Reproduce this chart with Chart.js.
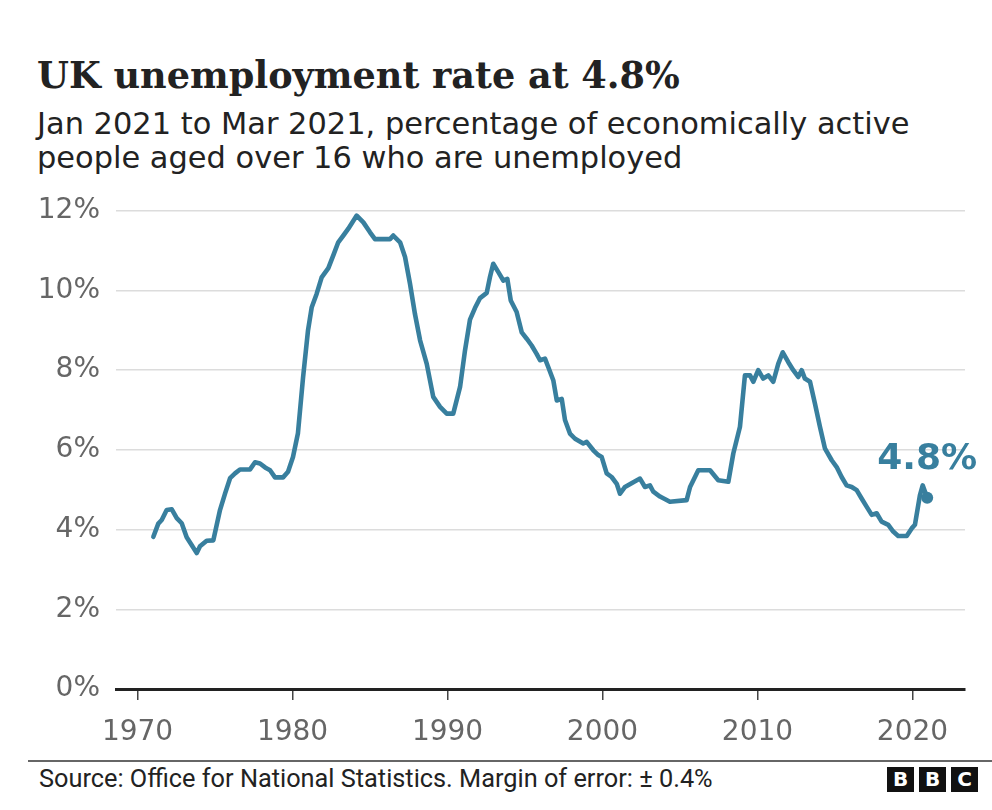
<!DOCTYPE html>
<html><head><meta charset="utf-8">
<script src="https://cdn.jsdelivr.net/npm/chart.js@4"></script>
<style>
html,body{margin:0;padding:0;background:#fff;width:992px;height:810px;overflow:hidden;}
.t{position:absolute;left:0;top:0;white-space:nowrap;color:#222;line-height:1;}
#wrap{position:absolute;left:0;top:178px;width:992px;height:582px;}
#sep{position:absolute;left:28px;right:0;top:760px;height:1.5px;background:#666;}
.bbc{position:absolute;top:767px;width:27px;height:25px;background:#111;color:#fff;font-family:"DejaVu Sans";font-weight:bold;font-size:20px;line-height:25px;text-align:center;}
</style>
</head><body>
<div class="t" id="title">UK unemployment rate at 4.8%</div>
<div class="t" id="sub1">Jan 2021 to Mar 2021, percentage of economically active</div>
<div class="t" id="sub2">people aged over 16 who are unemployed</div>
<div id="wrap"><canvas id="c"></canvas></div>
<div id="sep"></div>
<div class="t" id="src">Source: Office for National Statistics. Margin of error: ± 0.4%</div>
<div class="bbc" style="left:887px">B</div>
<div class="bbc" style="left:919px">B</div>
<div class="bbc" style="left:951px">C</div>
<script>
const years = [1971.02,1971.34,1971.56,1971.88,1972.21,1972.53,1972.85,1973.17,1973.50,1973.82,1974.03,1974.46,1974.89,1975.32,1975.65,1975.97,1976.29,1976.61,1977.26,1977.58,1977.90,1978.23,1978.55,1978.87,1979.39,1979.71,1980.03,1980.35,1980.68,1981.00,1981.24,1981.56,1981.88,1982.31,1982.63,1982.95,1983.28,1983.60,1984.14,1984.57,1985.00,1985.32,1986.29,1986.50,1986.94,1987.26,1987.58,1987.90,1988.23,1988.66,1989.08,1989.52,1989.95,1990.37,1990.81,1991.13,1991.45,1991.77,1992.10,1992.53,1992.74,1992.95,1993.28,1993.60,1993.86,1994.08,1994.46,1994.79,1995.11,1995.43,1995.75,1995.97,1996.29,1996.50,1996.83,1997.05,1997.37,1997.58,1997.90,1998.23,1998.76,1998.98,1999.41,1999.73,1999.95,2000.27,2000.59,2000.92,2001.13,2001.45,2001.99,2002.42,2002.74,2003.06,2003.28,2003.71,2004.35,2005.43,2005.65,2006.18,2006.94,2007.47,2008.12,2008.44,2008.87,2009.19,2009.52,2009.73,2010.05,2010.37,2010.70,2011.02,2011.34,2011.63,2011.99,2012.31,2012.63,2012.85,2013.06,2013.39,2013.71,2014.03,2014.35,2014.79,2015.11,2015.43,2015.75,2016.08,2016.40,2016.72,2017.05,2017.37,2017.69,2018.01,2018.44,2018.76,2019.08,2019.63,2019.95,2020.16,2020.48,2020.66,2020.95];
const rates = [3.82,4.15,4.24,4.49,4.51,4.29,4.16,3.81,3.61,3.41,3.58,3.72,3.73,4.49,4.91,5.29,5.41,5.51,5.51,5.69,5.66,5.56,5.49,5.31,5.31,5.45,5.82,6.42,7.82,9.00,9.58,9.92,10.33,10.56,10.88,11.21,11.38,11.55,11.88,11.71,11.46,11.29,11.29,11.38,11.21,10.84,10.17,9.41,8.75,8.16,7.33,7.08,6.91,6.91,7.58,8.50,9.27,9.56,9.81,9.94,10.34,10.67,10.46,10.25,10.29,9.75,9.46,8.95,8.79,8.62,8.41,8.25,8.29,8.08,7.74,7.24,7.28,6.75,6.41,6.28,6.16,6.20,5.99,5.87,5.82,5.41,5.32,5.15,4.90,5.07,5.19,5.28,5.07,5.11,4.95,4.83,4.70,4.74,5.07,5.49,5.49,5.24,5.20,5.91,6.58,7.87,7.87,7.71,8.00,7.79,7.87,7.71,8.16,8.45,8.20,8.00,7.83,8.00,7.79,7.71,7.16,6.58,6.04,5.74,5.57,5.32,5.11,5.07,4.99,4.78,4.57,4.37,4.41,4.20,4.12,3.95,3.84,3.84,4.03,4.12,4.86,5.11,4.80];
const xTicks = [1970,1980,1990,2000,2010,2020];
const yTicks = [0,2,4,6,8,10,12];
const latestLabel = "4.8%";

const TEAL = '#387f9e';
const mctx = document.createElement('canvas').getContext('2d');
function fit(el, family, weight, targetW, size){
  if(!size){ mctx.font = weight+' 100px "'+family+'"'; size = 100*targetW/mctx.measureText(el.textContent).width; }
  el.style.fontFamily='"'+family+'"'; el.style.fontWeight=weight; el.style.fontSize=size+'px';
  return size;
}
function place(el, x, baseline){
  el.style.left = x+'px'; el.style.top='0px';
  const p=document.createElement('span'); p.style.cssText='display:inline-block;width:0;height:0;vertical-align:baseline';
  el.appendChild(p);
  const b=p.getBoundingClientRect().top-el.getBoundingClientRect().top;
  el.removeChild(p);
  el.style.top=(baseline-b)+'px';
}
const T=document.getElementById('title'), S1=document.getElementById('sub1'), S2=document.getElementById('sub2'), SR=document.getElementById('src');
fit(T,'DejaVu Serif','bold',643); place(T,37,88);
const ss=fit(S1,'DejaVu Sans','normal',873); place(S1,37,134);
fit(S2,'DejaVu Sans','normal',0,ss); place(S2,37,168);
fit(SR,'Roboto','normal',674); place(SR,39,787);

const labelPlugin = {
  id:'latest',
  afterDatasetsDraw(chart){
    const meta = chart.getDatasetMeta(0);
    const pt = meta.data[meta.data.length-1];
    const ctx = chart.ctx;
    ctx.save();
    ctx.font = 'bold 100px "DejaVu Sans"';
    const w = ctx.measureText(latestLabel).width;
    const sz = 100*100/w;
    ctx.font = 'bold '+sz+'px "DejaVu Sans"';
    ctx.fillStyle = TEAL;
    ctx.textAlign='center'; ctx.textBaseline='alphabetic';
    ctx.fillText(latestLabel, pt.x, pt.y-29);
    ctx.restore();
  }
};

new Chart(document.getElementById('c'), {
  type:'line',
  data:{ datasets:[{
    data: years.map((y,i)=>({x:y,y:rates[i]})),
    borderColor:TEAL, backgroundColor:TEAL, borderWidth:4.6,
    borderJoinStyle:'round', borderCapStyle:'round', tension:0,
    pointRadius:(c)=>c.dataIndex===years.length-1?6:0,
    pointHoverRadius:0, pointBorderWidth:0,
    clip:false
  }]},
  options:{
    responsive:true, maintainAspectRatio:false, animation:false,
    events:[],
    layout:{padding:{left:0,right:27,top:8,bottom:0}},
    plugins:{legend:{display:false},tooltip:{enabled:false}},
    scales:{
      x:{ type:'linear', min:1968.61, max:2023.39,
        afterBuildTicks:(s)=>{ s.ticks = xTicks.map(v=>({value:v})); },
        afterFit:(s)=>{ s.height = 71; },
        ticks:{ callback:(v)=>String(v), color:'#666', font:{family:'DejaVu Sans', size:28}, padding:16, maxRotation:0, autoSkip:false },
        grid:{ drawOnChartArea:false, drawTicks:true, tickLength:11, color:'#444', lineWidth:1.5 },
        border:{ display:true, color:'#222', width:3 }
      },
      y:{ min:0, max:12,
        afterBuildTicks:(s)=>{ s.ticks = yTicks.map(v=>({value:v})); },
        afterFit:(s)=>{ s.width = 116; },
        ticks:{ callback:(v)=>v+'%', color:'#666', font:{family:'DejaVu Sans', size:28}, padding:16 },
        grid:{ drawTicks:false, color:'#dcdcdc', lineWidth:1.5 },
        border:{ display:false }
      }
    }
  },
  plugins:[labelPlugin]
});
</script>
</body></html>
